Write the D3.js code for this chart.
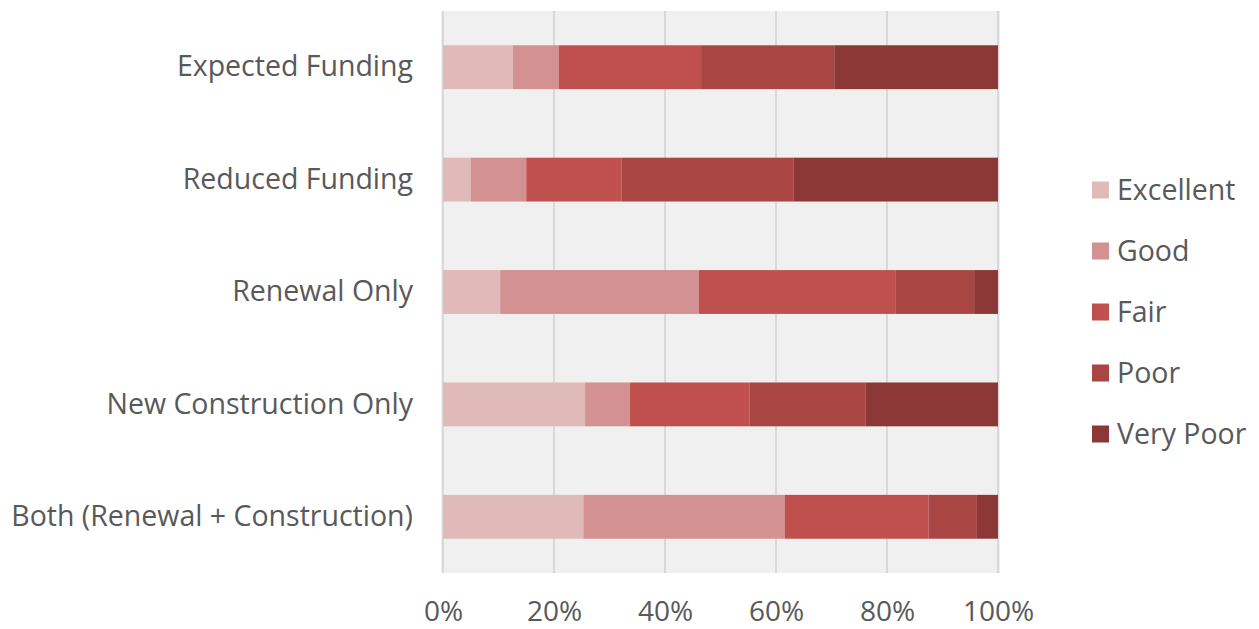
<!DOCTYPE html>
<html>
<head>
<meta charset="utf-8">
<script src="https://cdn.jsdelivr.net/npm/d3@7"></script>
<style>
  html, body { margin: 0; padding: 0; background: #ffffff; }
  svg { display: block; }
  text { font-family: "Open Sans", "Noto Sans", sans-serif; fill: #595959; }
</style>
</head>
<body>
<svg id="chart" width="1259" height="629"></svg>
<script>
// Scenario categories (top to bottom)
const categories = [
  "Expected Funding",
  "Reduced Funding",
  "Renewal Only",
  "New Construction Only",
  "Both (Renewal + Construction)"
];

// Condition ratings, stacked left to right
const ratings = ["Excellent", "Good", "Fair", "Poor", "Very Poor"];

// Share of each rating per scenario (percent)
const excellent = [12.6, 5.0, 10.3, 25.6, 25.3];
const good      = [ 8.3, 10.0, 35.8,  8.1, 36.3];
const fair      = [25.6, 17.2, 35.5, 21.5, 25.9];
const poor      = [24.0, 31.0, 14.1, 20.9,  8.7];
const veryPoor  = [29.5, 36.8,  4.3, 23.9,  3.8];

const tickValues = [0, 0.2, 0.4, 0.6, 0.8, 1.0];

const colors = ["#e0b9b9", "#d39191", "#c0504d", "#a94543", "#8c3836"];
const fontSize = 28.5;

const seriesValues = [excellent, good, fair, poor, veryPoor];
const rows = categories.map((c, i) => {
  const r = { category: c };
  ratings.forEach((k, j) => { r[k] = seriesValues[j][i]; });
  return r;
});

const svg = d3.select("#chart");
const plot = { left: 443, right: 998, top: 11, bottom: 573 };

const x = d3.scaleLinear().domain([0, 1]).range([plot.left, plot.right]);
const y = d3.scaleBand()
  .domain(categories)
  .range([plot.top, plot.bottom])
  .paddingInner(0.61)
  .paddingOuter(0.305);

const stack = d3.stack().keys(ratings).offset(d3.stackOffsetExpand);
const series = stack(rows);

// Plot background
svg.append("rect")
  .attr("x", plot.left - 2).attr("y", plot.top)
  .attr("width", plot.right - plot.left + 4)
  .attr("height", plot.bottom - plot.top)
  .attr("fill", "#f0f0f0");

// Vertical gridlines
svg.append("g")
  .selectAll("line")
  .data(tickValues)
  .join("line")
  .attr("x1", d => x(d)).attr("x2", d => x(d))
  .attr("y1", plot.top).attr("y2", plot.bottom)
  .attr("stroke", "#d9d9d9")
  .attr("stroke-width", 2);

// Stacked bars
svg.append("g")
  .selectAll("g")
  .data(series)
  .join("g")
  .attr("fill", (d, i) => colors[i])
  .selectAll("rect")
  .data(d => d)
  .join("rect")
  .attr("x", d => x(d[0]))
  .attr("y", d => y(d.data.category))
  .attr("width", d => x(d[1]) - x(d[0]))
  .attr("height", y.bandwidth());

// X axis tick labels (baseline placed so the glyph box stays inside the frame)
const xAxis = d3.axisBottom(x)
  .tickValues(tickValues)
  .tickFormat(d3.format(".0%"))
  .tickSize(0)
  .tickPadding(0);

const gx = svg.append("g")
  .attr("transform", `translate(0, ${plot.bottom + 28})`)
  .call(xAxis);
gx.select(".domain").remove();
gx.selectAll("text")
  .attr("font-size", 28)
  .attr("font-family", "\"Open Sans\", sans-serif")
  .attr("fill", "#595959");

// Category labels
const yAxis = d3.axisLeft(y).tickSize(0).tickPadding(30);
const gy = svg.append("g")
  .attr("transform", `translate(${plot.left}, 0)`)
  .call(yAxis);
gy.select(".domain").remove();
gy.selectAll("text")
  .attr("font-size", fontSize)
  .attr("font-family", "\"Open Sans\", sans-serif")
  .attr("fill", "#595959");

// Legend
const legend = svg.append("g").attr("transform", "translate(1092, 190)");
const item = legend.selectAll("g")
  .data(ratings)
  .join("g")
  .attr("transform", (d, i) => `translate(0, ${i * 61})`);
item.append("rect")
  .attr("x", 0).attr("y", -8.5)
  .attr("width", 17).attr("height", 17)
  .attr("fill", (d, i) => colors[i]);
item.append("text")
  .attr("x", 25).attr("y", 0)
  .attr("dy", "0.35em")
  .attr("font-size", fontSize)
  .text(d => d);
</script>
</body>
</html>
